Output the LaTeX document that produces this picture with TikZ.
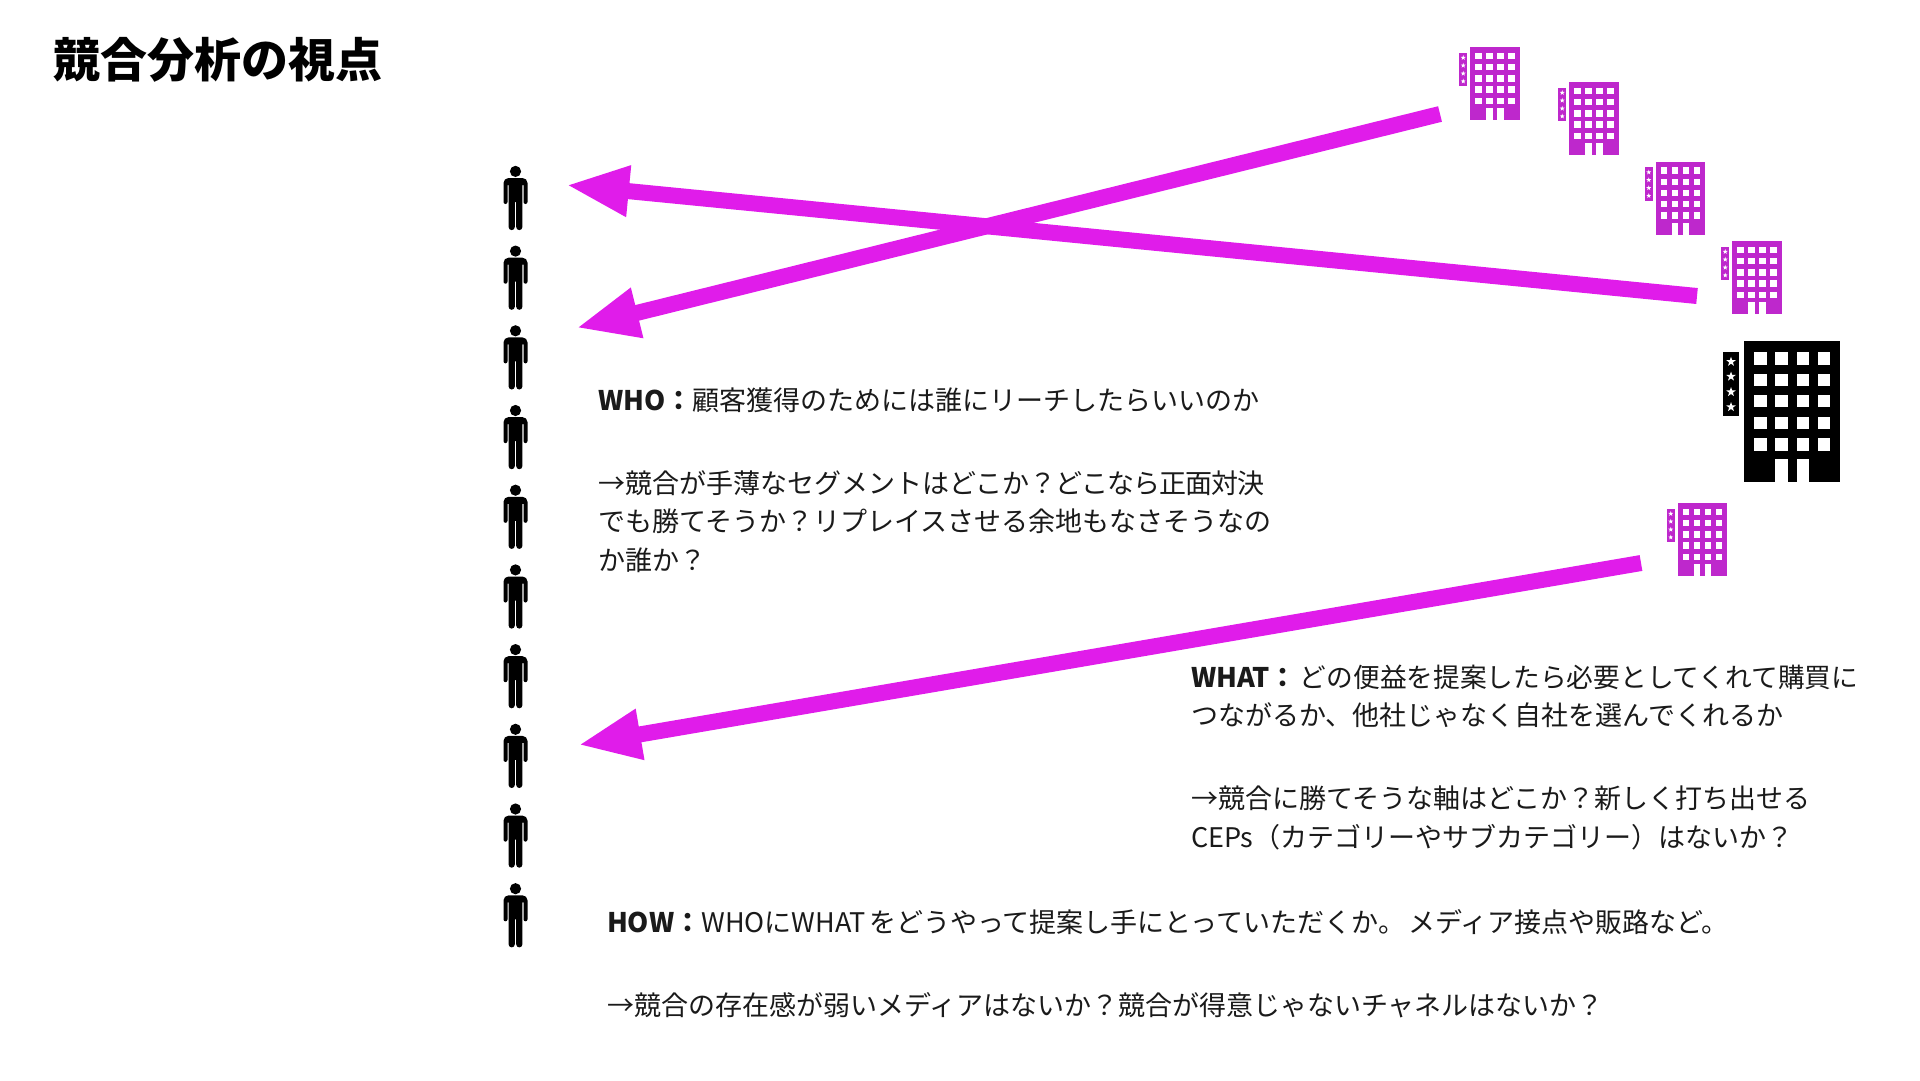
\documentclass[tikz,border=0pt]{standalone}
\usepackage{fontspec}
\setmainfont{Noto Sans CJK JP}
\usetikzlibrary{arrows.meta}
\definecolor{arrowmag}{HTML}{E01CEA}
\definecolor{bldmag}{HTML}{BE28CC}
\definecolor{ink}{HTML}{1A1A1A}
\newcommand{\bldstar}[1]{\fill[white] (-13,#1) +(-90:5) -- +(-54:2) -- +(-18:5) -- +(18:2) -- +(54:5) -- +(90:2) -- +(126:5) -- +(162:2) -- +(198:5) -- +(234:2) -- cycle;}
\tikzset{
  x=1pt,y=-1pt,
  body/.style={font=\fontsize{27pt}{32pt}\selectfont,text=ink,anchor=base west,inner sep=0pt,outer sep=0pt},
  titletext/.style={font=\fontsize{47pt}{52pt}\selectfont\bfseries,text=black,anchor=base west,inner sep=0pt,outer sep=0pt},
  bigarrow/.style={draw=arrowmag,line width=16pt,-{Triangle[length=63pt,width=47pt]},shorten >=0pt},
  building/.pic={
    \fill[pic actions] (0,0) rectangle (96,141);
    \fill[pic actions] (-21,11) rectangle (-5,75);
    \foreach \wy in {11.3,32.7,54,75.7,97.3}{
      \foreach \wx in {10.3,31.3,52.7,73.7}{
        \fill[white] (\wx,\wy) rectangle ++(12.4,12.4);
      }
    }
    \fill[white] (31.3,117.7) rectangle (43.7,141.5);
    \fill[white] (52.7,117.7) rectangle (65,141.5);
    \bldstar{20.7}\bldstar{35.5}\bldstar{51}\bldstar{66}
  },
  person/.pic={
    \fill[black] (0,5.4) circle (5.6);
    \fill[black] (-12,17) arc[start angle=180,end angle=270,radius=5] -- (7,12) arc[start angle=270,end angle=360,radius=5] -- (12,36) arc[start angle=0,end angle=180,radius=2] -- (8,19) -- (6.9,19) -- (6.9,61) arc[start angle=0,end angle=180,radius=3.1] -- (0.7,36) -- (-0.7,36) -- (-0.7,61) arc[start angle=0,end angle=180,radius=3.1] -- (-6.9,19) -- (-8,19) -- (-8,36) arc[start angle=0,end angle=180,radius=2] -- cycle;
  }
}
\begin{document}
\begin{tikzpicture}
\useasboundingbox[fill=white] (0,0) rectangle (1920,1080);
\node[titletext] (title) at (53,77) {競合分析の視点};
% people
\foreach \i [count=\n from 0] in {1,...,10}{
  \pic (person\i) at (515.5,{166+79.7*\n}) {person};
}
% buildings
\pic[fill=bldmag,scale=.52] (b1) at (1470,47) {building};
\pic[fill=bldmag,scale=.52] (b2) at (1569,82) {building};
\pic[fill=bldmag,scale=.52] (b3) at (1655.5,161.5) {building};
\pic[fill=bldmag,scale=.52] (b4) at (1732,241) {building};
\pic[fill=bldmag,scale=.52] (b5) at (1677.5,503) {building};
\pic[fill=black] (hero) at (1744,341) {building};
% arrows
\coordinate (a1s) at (1697,296);
\coordinate (a1e) at (566,185);
\coordinate (a2s) at (1440,114);
\coordinate (a2e) at (576,328);
\coordinate (a3s) at (1641,563);
\coordinate (a3e) at (578,745);
\draw[bigarrow] (a1s) -- (a1e);
\draw[bigarrow] (a2s) -- (a2e);
\draw[bigarrow] (a3s) -- (a3e);
% texts
\node[body] (who1) at (598,410) {\textbf{WHO：}顧客獲得のためには誰にリーチしたらいいのか};
\node[body] (who2) at (598,493) {→競合が手薄なセグメントはどこか？\hspace{-1pt}ど\hspace{-1pt}こ\hspace{-1pt}な\hspace{-1pt}ら\hspace{-1pt}正\hspace{-.8pt}面\hspace{-.8pt}対\hspace{-.8pt}決};
\node[body] (who3) at (598,531) {でも勝てそうか？リプレイスさせる余地もなさそうなの};
\node[body] (who4) at (598,570) {か誰か？};
\node[body] (what1) at (1191,687) {\textbf{WHAT：}\hspace{3pt}\fontsize{26.7pt}{32pt}\selectfont どの便益を提案したら必要としてくれて購買に};
\node[body] (what2) at (1191,725) {つながるか、他社じゃなく自社を選んでくれるか};
\node[body] (what3) at (1191,808) {→競合に勝てそうな軸はどこか？新しく打ち出せる};
\node[body] (what4) at (1191,847) {CEPs（カテゴリーやサブカテゴリー）はないか？};
\node[body] (how1) at (607,932) {\textbf{HOW：}WHOにWHAT\hspace{3pt}をどうやって提案し手にとっていただくか。\hspace{3pt}メディア接点や販路など。};
\node[body] (how2) at (607,1015) {→競合の存在感が弱いメディアはないか？競合が得意じゃないチャネルはないか？};
\end{tikzpicture}
\end{document}
